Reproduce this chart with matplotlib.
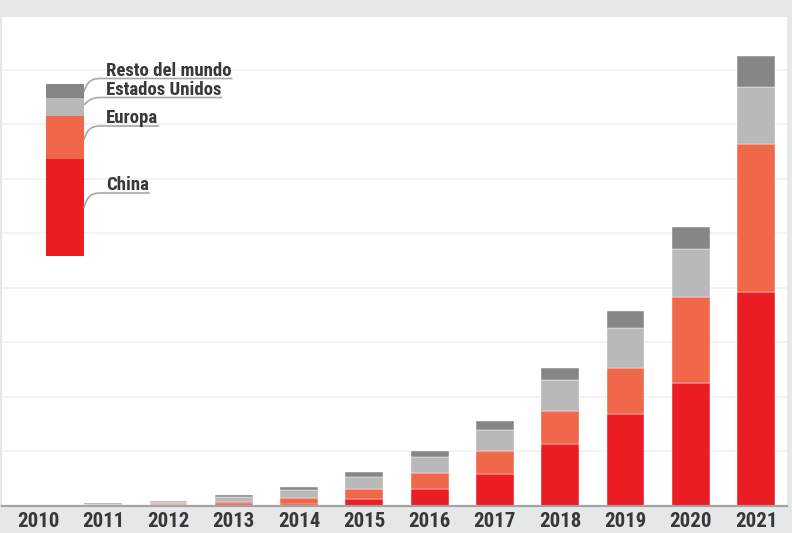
import numpy as np
import matplotlib
matplotlib.use("Agg")
import matplotlib.pyplot as plt
from matplotlib.path import Path
from matplotlib.patches import PathPatch

# data (units = one gridline step)
years = ["2010", "2011", "2012", "2013", "2014", "2015",
         "2016", "2017", "2018", "2019", "2020", "2021"]
china = [0.003, 0.005, 0.01, 0.03, 0.04, 0.13, 0.31, 0.59, 1.14, 1.68, 2.26, 3.92]
europa = [0.005, 0.01, 0.03, 0.05, 0.10, 0.19, 0.29, 0.42, 0.61, 0.86, 1.57, 2.72]
eeuu = [0.005, 0.02, 0.04, 0.09, 0.15, 0.21, 0.29, 0.39, 0.56, 0.72, 0.89, 1.04]
resto = [0.005, 0.015, 0.02, 0.03, 0.05, 0.09, 0.11, 0.16, 0.23, 0.31, 0.39, 0.57]

series_names = ["China", "Europa", "Estados Unidos", "Resto del mundo"]
colors = ["#ec1c24", "#f1674a", "#b9b9b9", "#868686"]
legend_key = [97, 42.7, 18.6, 13.4]  # proportions of the legend bar

W, H = 792, 533
FONT = ["Roboto Condensed", "Barlow Condensed", "Oswald", "DejaVu Sans"]
TXT = "#383838"


def px(x, y):
    """pixel (from top-left) -> figure fraction"""
    return x / W, 1 - y / H


fig = plt.figure(figsize=(W / 100, H / 100), dpi=100, facecolor="#e6e7e9")

# main panel
ax = fig.add_axes([2 / W, (H - 506) / H, 785 / W, (506 - 17) / H])
ax.set_facecolor("white")

x = np.arange(len(years))
bottom = np.zeros(len(years))
for vals, col in zip([china, europa, eeuu, resto], colors):
    ax.bar(x, vals, width=0.58, bottom=bottom, color=col,
           edgecolor="white", linewidth=0.3, zorder=3)
    bottom += np.array(vals)

ax.set_xlim(-0.552, 11.475)
ax.set_ylim(0, 8.97)
ax.set_yticks(np.arange(1, 9))
ax.yaxis.grid(True, color="#f1f1f1", linewidth=1.2, zorder=0)
ax.tick_params(axis="y", left=False, labelleft=False)
ax.set_xticks(x)
ax.set_xticklabels(years, fontsize=15, fontweight="bold", color=TXT, family=FONT)
ax.tick_params(axis="x", length=0, pad=4.5)
for s in ["top", "left", "right"]:
    ax.spines[s].set_visible(False)
ax.spines["bottom"].set_color("#a3a3a3")
ax.spines["bottom"].set_linewidth(1.6)
ax.spines["bottom"].set_zorder(4)

# legend key bar
lx0, ly0 = px(46, 256)
lx1, ly1 = px(84, 84.3)
lax = fig.add_axes([lx0, ly0, lx1 - lx0, ly1 - ly0])
lb = 0
for v, col in zip(legend_key, colors):
    lax.bar(0, v, width=1, bottom=lb, color=col, linewidth=0)
    lb += v
lax.set_xlim(-0.5, 0.5)
lax.set_ylim(0, lb)
lax.axis("off")

# labels with connectors: (start y at bar edge, underline y, text baseline)
label_geo = {
    "Resto del mundo": (92, 78.5, 75.5),
    "Estados Unidos": (105, 97.5, 95),
    "Europa": (140, 126, 123),
    "China": (208, 193, 190.5),
}
renderer = fig.canvas.get_renderer()
for name in series_names:
    y0, yu, yb = label_geo[name]
    tx, ty = px(106, yb)
    t = fig.text(tx, ty, name, fontsize=13.5, fontweight="bold", color=TXT,
                 family=FONT, va="baseline", ha="left")
    xe = t.get_window_extent(renderer).x1 + 1
    verts = [px(84, y0), px(86.5, yu + 5), px(90, yu), px(100, yu), px(xe, yu)]
    codes = [Path.MOVETO, Path.CURVE4, Path.CURVE4, Path.CURVE4, Path.LINETO]
    fig.add_artist(PathPatch(Path(verts, codes), transform=fig.transFigure,
                             facecolor="none", edgecolor="#a8a8a8", linewidth=1.2))

fig.savefig("out.png", dpi=100, facecolor=fig.get_facecolor())
